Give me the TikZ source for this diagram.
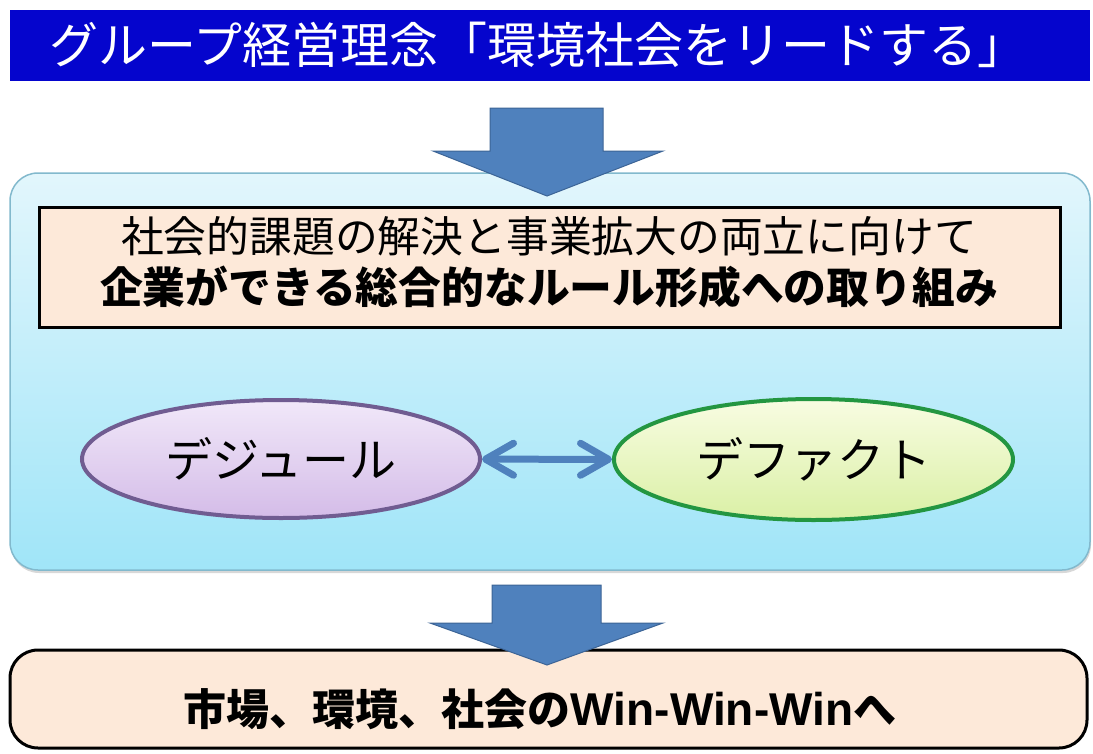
\documentclass[tikz,border=0pt]{standalone}
\usepackage{fontspec}
\newfontfamily\jp{Noto Sans CJK JP}
\newfontfamily\lat{Liberation Sans}
\usetikzlibrary{shapes.geometric,arrows.meta,shadows}
\definecolor{bannerblue}{RGB}{5,5,205}
\definecolor{arrowblue}{RGB}{79,129,189}
\definecolor{arrowedge}{RGB}{60,100,150}
\definecolor{lbtop}{RGB}{226,246,252}
\definecolor{lbbot}{RGB}{160,229,248}
\definecolor{lbedge}{RGB}{130,185,205}
\definecolor{peach}{RGB}{253,233,217}
\definecolor{purtop}{RGB}{241,232,249}
\definecolor{purbot}{RGB}{212,188,232}
\definecolor{puredge}{RGB}{112,92,145}
\definecolor{grntop}{RGB}{248,252,226}
\definecolor{grnbot}{RGB}{218,240,165}
\definecolor{grnedge}{RGB}{35,150,65}
\tikzset{
  banner/.style={rectangle, fill=bannerblue, inner sep=0pt, minimum width=1080pt, minimum height=71pt},
  titletext/.style={font=\jp\fontsize{49}{58}\selectfont, inner sep=0pt},
  lbox/.style={rectangle, rounded corners=28pt, top color=lbtop, bottom color=lbbot, draw=lbedge, line width=1.5pt, inner sep=0pt,
    drop shadow={shadow xshift=1pt, shadow yshift=-3pt, opacity=0.3}},
  pbox/.style={rectangle, fill=peach, draw=black, line width=3pt, inner sep=0pt},
  ell/.style={ellipse, line width=4pt, inner sep=0pt, font=\jp\fontsize{47}{56}\selectfont},
  blockarrow/.style={fill=arrowblue, draw=arrowedge, line width=1pt, line join=miter},
  dbl/.style={draw=arrowblue, line width=7pt, {Straight Barb[length=28pt,width=32pt,round]}-{Straight Barb[length=28pt,width=32pt,round]}}
}
\begin{document}
\begin{tikzpicture}[x=1pt,y=-1pt]
\useasboundingbox[fill=white] (0,0) rectangle (1093,753);
% banner
\node[banner] (bannerbox) at (550,45.5) {};
\node[titletext, text=white] (title) at (538,45) {グループ経営理念「環境社会をリードする」};
% main light blue panel
\node[lbox, minimum width=1080pt, minimum height=397pt] (panel) at (550,371.5) {};
% arrow 1
\path[blockarrow] (490,108) -- (603,108) -- (603,151) -- (663,151) -- (547,196) -- (433,151) -- (490,151) -- cycle;
% inner goal box
\node[pbox, minimum width=1021pt, minimum height=120pt] (goal) at (549.5,267) {};
\node[font=\jp\fontsize{42.8}{51}\selectfont, align=center, inner sep=0pt] (goaltext) at (549,262.5)
  {社会的課題の解決と事業拡大の両立に向けて\\{\bfseries 企業ができる総合的なルール形成への取り組み}};
% ellipses
\node[ell, top color=purtop, bottom color=purbot, draw=puredge, minimum width=398pt, minimum height=118pt] (dejure) at (281,459) {デジュール};
\node[ell, top color=grntop, bottom color=grnbot, draw=grnedge, minimum width=399pt, minimum height=121pt] (defacto) at (813.5,459.5) {デファクト};
\draw[dbl] (dejure) -- (defacto);
% bottom result box
\node[pbox, rounded corners=28pt, minimum width=1077pt, minimum height=98pt] (result) at (548.5,699) {};
\node[font=\jp\bfseries\fontsize{43}{52}\selectfont, inner sep=0pt] (resulttext) at (540,709)
  {市場、環境、社会の{\lat\fontsize{46}{52}\selectfont Win-Win-Win}へ};
% arrow 2
\path[blockarrow] (492,585) -- (601,585) -- (601,623) -- (663,623) -- (547,665) -- (430,623) -- (492,623) -- cycle;
\end{tikzpicture}
\end{document}
